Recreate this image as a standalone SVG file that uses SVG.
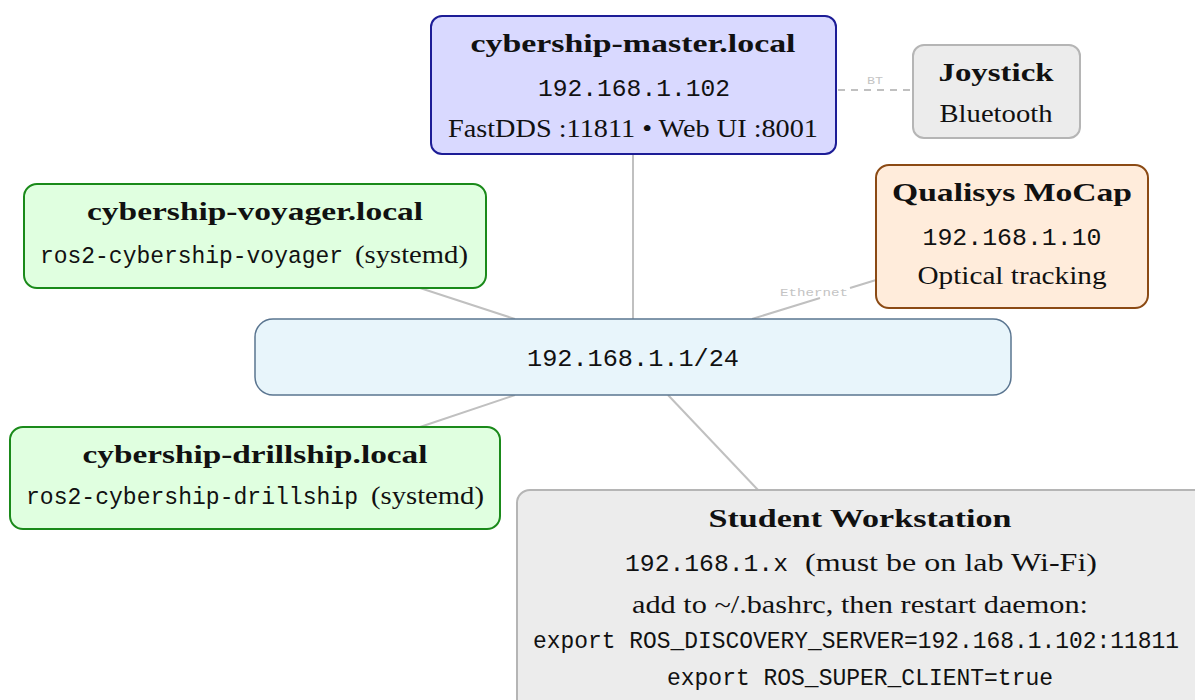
<svg xmlns="http://www.w3.org/2000/svg" width="1195" height="700" viewBox="0 0 1195 700">
  <style>
    .serif { font-family: "Liberation Serif", "DejaVu Serif", serif; fill: #111; }
    .title { font-family: "Liberation Serif", "DejaVu Serif", serif; font-weight: bold; font-size: 26px; fill: #111; }
    .body { font-size: 25px; }
    .mono { font-family: "Liberation Mono", "DejaVu Sans Mono", monospace; font-size: 24.5px; fill: #111; }
    .link { stroke: #c0c0c0; stroke-width: 2; fill: none; }
    .tag { font-family: "Liberation Mono", "DejaVu Sans Mono", monospace; font-size: 11px; fill: #c4c4c4; }
  </style>
  <rect width="1195" height="700" fill="#ffffff"/>

  <!-- connectors -->
  <g id="connectors">
    <line class="link" x1="633" y1="154" x2="633" y2="319"/>
    <line class="link" x1="420" y1="288" x2="515" y2="319"/>
    <line class="link" x1="420" y1="427" x2="515" y2="395"/>
    <line class="link" x1="668" y1="395" x2="758" y2="490"/>
    <line class="link" x1="752" y1="319" x2="820" y2="298"/>
    <line class="link" x1="850" y1="288" x2="876" y2="280"/>
    <text class="tag" x="814" y="296" text-anchor="middle" textLength="68" lengthAdjust="spacingAndGlyphs">Ethernet</text>
    <line class="link" x1="838" y1="90" x2="913" y2="90" stroke-dasharray="7,6"/>
    <text class="tag" x="875" y="84" text-anchor="middle" textLength="16" lengthAdjust="spacingAndGlyphs">BT</text>
  </g>

  <!-- master -->
  <g id="master">
    <rect x="431" y="16" width="405" height="138" rx="11" fill="#d9d9ff" stroke="#1c1c96" stroke-width="2"/>
    <text class="title" x="633" y="52" text-anchor="middle" textLength="325" lengthAdjust="spacingAndGlyphs">cybership-master.local</text>
    <text class="mono" x="634" y="96" text-anchor="middle" textLength="192" lengthAdjust="spacingAndGlyphs">192.168.1.102</text>
    <text class="serif body" x="633" y="137" text-anchor="middle" textLength="370" lengthAdjust="spacingAndGlyphs">FastDDS :11811 • Web UI :8001</text>
  </g>

  <!-- joystick -->
  <g id="joystick">
    <rect x="913" y="45" width="167" height="93" rx="11" fill="#ececec" stroke="#b5b5b5" stroke-width="2"/>
    <text class="title" x="996" y="81" text-anchor="middle" textLength="115" lengthAdjust="spacingAndGlyphs">Joystick</text>
    <text class="serif body" x="996" y="122" text-anchor="middle" textLength="113" lengthAdjust="spacingAndGlyphs">Bluetooth</text>
  </g>

  <!-- qualisys -->
  <g id="qualisys">
    <rect x="876" y="165" width="272" height="143" rx="13" fill="#ffecdb" stroke="#8b4a14" stroke-width="2"/>
    <text class="title" x="1012" y="201" text-anchor="middle" textLength="240" lengthAdjust="spacingAndGlyphs">Qualisys MoCap</text>
    <text class="mono" x="1012" y="245" text-anchor="middle" textLength="179" lengthAdjust="spacingAndGlyphs">192.168.1.10</text>
    <text class="serif body" x="1012" y="284" text-anchor="middle" textLength="189" lengthAdjust="spacingAndGlyphs">Optical tracking</text>
  </g>

  <!-- voyager -->
  <g id="voyager">
    <rect x="24" y="184" width="462" height="104" rx="13" fill="#e0ffe0" stroke="#1a8a1a" stroke-width="2"/>
    <text class="title" x="255" y="220" text-anchor="middle" textLength="336" lengthAdjust="spacingAndGlyphs">cybership-voyager.local</text>
    <text class="mono" x="40" y="263" textLength="303" lengthAdjust="spacingAndGlyphs">ros2-cybership-voyager</text>
    <text class="serif body" x="355" y="263" textLength="113" lengthAdjust="spacingAndGlyphs">(systemd)</text>
  </g>

  <!-- hub -->
  <g id="hub">
    <rect x="255" y="319" width="756" height="76" rx="18" fill="#e8f5fb" stroke="#5a7590" stroke-width="1.5"/>
    <text class="mono" x="633" y="366" text-anchor="middle" textLength="212" lengthAdjust="spacingAndGlyphs">192.168.1.1/24</text>
  </g>

  <!-- drillship -->
  <g id="drillship">
    <rect x="10" y="427" width="490" height="102" rx="13" fill="#e0ffe0" stroke="#1a8a1a" stroke-width="2"/>
    <text class="title" x="255" y="463" text-anchor="middle" textLength="345" lengthAdjust="spacingAndGlyphs">cybership-drillship.local</text>
    <text class="mono" x="26" y="504" textLength="332" lengthAdjust="spacingAndGlyphs">ros2-cybership-drillship</text>
    <text class="serif body" x="371" y="504" textLength="113" lengthAdjust="spacingAndGlyphs">(systemd)</text>
  </g>

  <!-- student workstation -->
  <g id="student">
    <rect x="517" y="490" width="700" height="240" rx="13" fill="#ececec" stroke="#b5b5b5" stroke-width="2"/>
    <text class="title" x="860" y="527" text-anchor="middle" textLength="303" lengthAdjust="spacingAndGlyphs">Student Workstation</text>
    <text class="mono" x="625" y="571" textLength="163" lengthAdjust="spacingAndGlyphs">192.168.1.x</text>
    <text class="serif body" x="805" y="571" textLength="292" lengthAdjust="spacingAndGlyphs">(must be on lab Wi-Fi)</text>
    <text class="serif body" x="860" y="613" text-anchor="middle" textLength="456" lengthAdjust="spacingAndGlyphs">add to ~/.bashrc, then restart daemon:</text>
    <text class="mono" x="856" y="648" text-anchor="middle" font-size="21.5" textLength="646" lengthAdjust="spacingAndGlyphs">export ROS_DISCOVERY_SERVER=192.168.1.102:11811</text>
    <text class="mono" x="860" y="685" text-anchor="middle" font-size="22" textLength="386" lengthAdjust="spacingAndGlyphs">export ROS_SUPER_CLIENT=true</text>
  </g>
</svg>
